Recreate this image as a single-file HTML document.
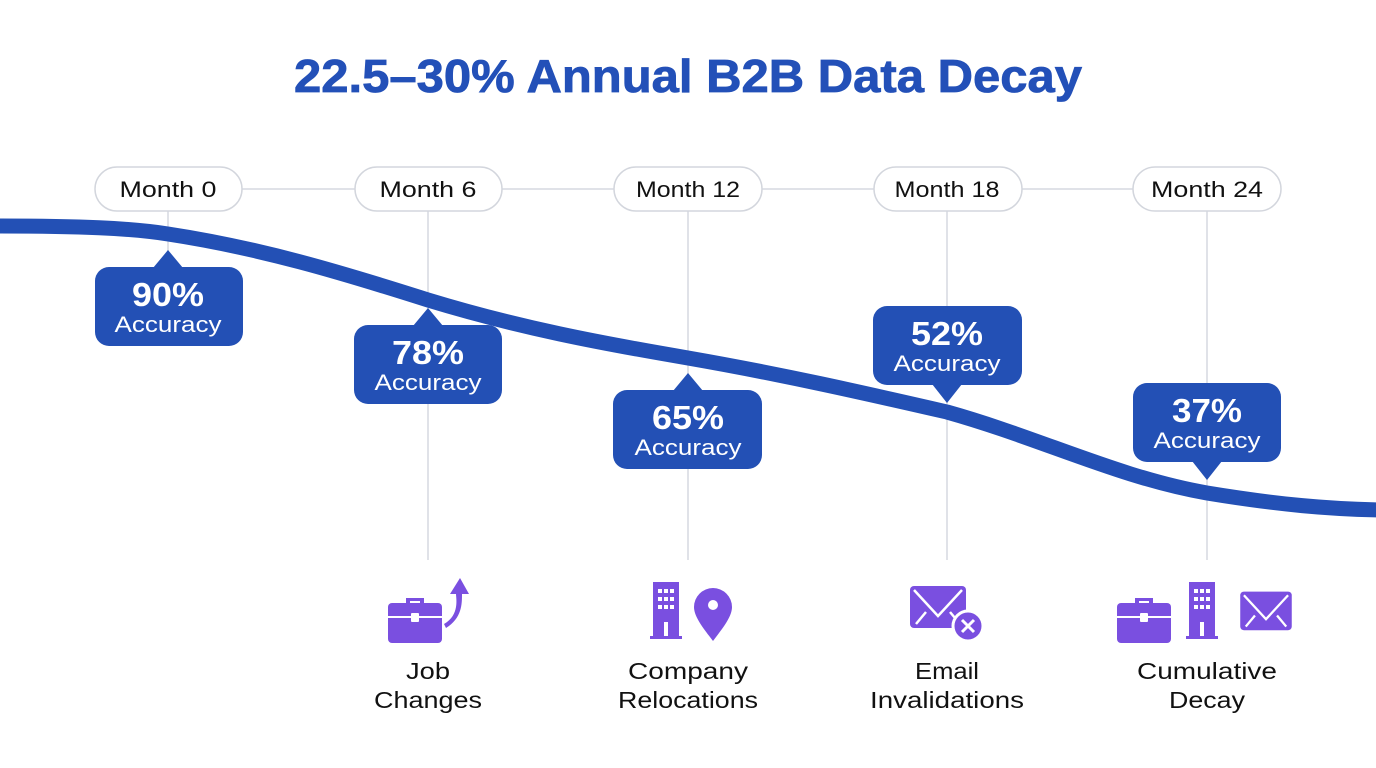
<!DOCTYPE html>
<html><head><meta charset="utf-8"><style>
html,body{margin:0;padding:0;background:#fff;}
svg{display:block;}
text{font-family:"Liberation Sans",sans-serif;}
</style></head><body>
<svg width="1376" height="768" viewBox="0 0 1376 768" xmlns="http://www.w3.org/2000/svg">
<rect width="1376" height="768" fill="#fff"/>
<text x="688" y="92" text-anchor="middle" font-size="46" font-weight="bold" fill="#2350b8" textLength="788" lengthAdjust="spacingAndGlyphs" stroke="#2350b8" stroke-width="0.8">22.5–30% Annual B2B Data Decay</text>
<line x1="168" y1="189" x2="1207" y2="189" stroke="#d6d9e0" stroke-width="1.5"/>
<line x1="168" y1="211" x2="168" y2="255" stroke="#d6d9e0" stroke-width="1.5"/>
<g stroke="#d6d9e0" stroke-width="1.5">
<line x1="428" y1="211" x2="428" y2="560"/>
<line x1="688" y1="211" x2="688" y2="560"/>
<line x1="947" y1="211" x2="947" y2="560"/>
<line x1="1207" y1="211" x2="1207" y2="560"/>
</g>
<g fill="#fff" stroke="#d3d6dd" stroke-width="1.5">
<rect x="95" y="167" width="147" height="44" rx="22"/>
<rect x="355" y="167" width="147" height="44" rx="22"/>
<rect x="614" y="167" width="148" height="44" rx="22"/>
<rect x="874" y="167" width="148" height="44" rx="22"/>
<rect x="1133" y="167" width="148" height="44" rx="22"/>
</g>
<g font-size="22" fill="#111" text-anchor="middle">
<text x="168" y="197" textLength="97" lengthAdjust="spacingAndGlyphs">Month 0</text>
<text x="428" y="197" textLength="97" lengthAdjust="spacingAndGlyphs">Month 6</text>
<text x="688" y="197" textLength="104" lengthAdjust="spacingAndGlyphs">Month 12</text>
<text x="947" y="197" textLength="105" lengthAdjust="spacingAndGlyphs">Month 18</text>
<text x="1207" y="197" textLength="112" lengthAdjust="spacingAndGlyphs">Month 24</text>
</g>
<path d="M-5,226 C80,226 130,228 168,234 C260,248 340,272 428,300 C520,328 600,343 688,358 C780,374 860,392 947,412 C1040,438 1120,478 1207,493 C1280,505 1330,509 1380,510" fill="none" stroke="#2350b5" stroke-width="15"/>
<g fill="#2350b5">
<rect x="95" y="267" width="148" height="79" rx="14"/><path d="M153,268 L168,250 L183,268 Z"/>
<rect x="354" y="325" width="148" height="79" rx="14"/><path d="M413,326 L428,308 L443,326 Z"/>
<rect x="613" y="390" width="149" height="79" rx="14"/><path d="M673,391 L688,373 L703,391 Z"/>
<rect x="873" y="306" width="149" height="79" rx="14"/><path d="M932,384 L947,403 L962,384 Z"/>
<rect x="1133" y="383" width="148" height="79" rx="14"/><path d="M1192,461 L1207,480 L1222,461 Z"/>
</g>
<g fill="#fff" text-anchor="middle">
<g font-size="33" font-weight="bold">
<text x="168" y="306" textLength="72" lengthAdjust="spacingAndGlyphs">90%</text>
<text x="428" y="364" textLength="72" lengthAdjust="spacingAndGlyphs">78%</text>
<text x="688" y="429" textLength="72" lengthAdjust="spacingAndGlyphs">65%</text>
<text x="947" y="345" textLength="72" lengthAdjust="spacingAndGlyphs">52%</text>
<text x="1207" y="422" textLength="70" lengthAdjust="spacingAndGlyphs">37%</text>
</g>
<g font-size="22">
<text x="168" y="332" textLength="107" lengthAdjust="spacingAndGlyphs">Accuracy</text>
<text x="428" y="390" textLength="107" lengthAdjust="spacingAndGlyphs">Accuracy</text>
<text x="688" y="455" textLength="107" lengthAdjust="spacingAndGlyphs">Accuracy</text>
<text x="947" y="371" textLength="107" lengthAdjust="spacingAndGlyphs">Accuracy</text>
<text x="1207" y="448" textLength="107" lengthAdjust="spacingAndGlyphs">Accuracy</text>
</g>
</g>
<defs>
<g id="brief">
<path d="M-9,-14 h18 v6 h-4 v-3 h-10 v3 h-4 Z"/>
<rect x="-27" y="-9" width="54" height="40" rx="4"/>
<rect x="-27" y="4" width="54" height="2" fill="#fff"/>
<rect x="-4" y="1" width="8" height="9" rx="1" fill="#fff"/>
</g>
<g id="bldg">
<rect x="-13" y="-22" width="26" height="56"/>
<rect x="-16" y="32" width="32" height="3"/>
<g fill="#fff"><rect x="-8" y="-15" width="4" height="4"/><rect x="-2" y="-15" width="4" height="4"/><rect x="4" y="-15" width="4" height="4"/>
<rect x="-8" y="-7" width="4" height="4"/><rect x="-2" y="-7" width="4" height="4"/><rect x="4" y="-7" width="4" height="4"/>
<rect x="-8" y="1" width="4" height="4"/><rect x="-2" y="1" width="4" height="4"/><rect x="4" y="1" width="4" height="4"/>
<rect x="-2" y="18" width="4" height="14"/></g>
</g>
<g id="env">
<rect x="-28" y="-20" width="56" height="42" rx="4"/>
<path d="M-24,-16 L0,10 L24,-16 M-22,18 L-12,6 M22,18 L12,6" stroke="#fff" stroke-width="2.5" fill="none"/>
</g>
</defs>
<g fill="#7a4fe0">
<use href="#brief" transform="translate(415,612)"/>
<path d="M444,624 C460,615 456,598 456,594 L450,594 L460,578 L469,594 L462,594 C462,604 462,618 446,628 Z"/>
<use href="#bldg" transform="translate(666,604)"/>
<path d="M713,588 a19,19 0 0 1 19,19 c0,10 -10,22 -19,34 c-9,-12 -19,-24 -19,-34 a19,19 0 0 1 19,-19 Z"/>
<circle cx="713" cy="605" r="5" fill="#fff"/>
<use href="#env" transform="translate(938,606)"/>
<circle cx="968" cy="626" r="15" stroke="#fff" stroke-width="3"/>
<path d="M962,620 L974,632 M974,620 L962,632" stroke="#fff" stroke-width="3"/>
<use href="#brief" transform="translate(1144,612)"/>
<use href="#bldg" transform="translate(1202,604)"/>
<use href="#env" transform="translate(1266,610) scale(0.92)"/>
</g>
<g font-size="23" fill="#111" text-anchor="middle">
<text x="428" y="679" textLength="44" lengthAdjust="spacingAndGlyphs">Job</text><text x="428" y="708" textLength="108" lengthAdjust="spacingAndGlyphs">Changes</text>
<text x="688" y="679" textLength="120" lengthAdjust="spacingAndGlyphs">Company</text><text x="688" y="708" textLength="140" lengthAdjust="spacingAndGlyphs">Relocations</text>
<text x="947" y="679" textLength="64" lengthAdjust="spacingAndGlyphs">Email</text><text x="947" y="708" textLength="154" lengthAdjust="spacingAndGlyphs">Invalidations</text>
<text x="1207" y="679" textLength="140" lengthAdjust="spacingAndGlyphs">Cumulative</text><text x="1207" y="708" textLength="76" lengthAdjust="spacingAndGlyphs">Decay</text>
</g>
</svg>
</body></html>
